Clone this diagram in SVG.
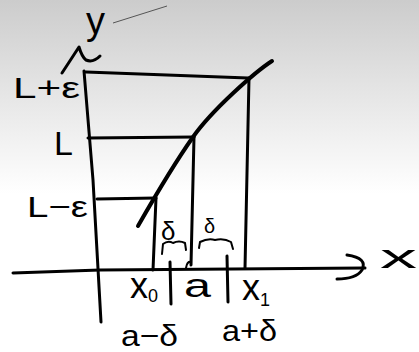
<svg xmlns="http://www.w3.org/2000/svg" width="419" height="352" viewBox="0 0 419 352">
<defs>
<linearGradient id="bg" x1="0" y1="0" x2="0" y2="1">
<stop offset="0" stop-color="#cccccc"/>
<stop offset="0.25" stop-color="#e4e4e4"/>
<stop offset="0.55" stop-color="#ffffff"/>
</linearGradient>
<style>
.ln{fill:none;stroke:#000;stroke-width:3;stroke-linecap:round;stroke-linejoin:round}
.th{fill:none;stroke:#000;stroke-width:2;stroke-linecap:round;stroke-linejoin:round}
.t{font-family:"Liberation Sans",Arial,sans-serif;fill:#000}
</style>
</defs>
<rect width="419" height="352" fill="url(#bg)"/>
<g id="axes">
<path class="ln" d="M84,71 L93,180 L101,322"/>
<path class="ln" d="M62,73 L79,47 Q82,57 86,60 Q93,63 100,56"/>
<path class="ln" d="M13,273 L100,270 L365,268"/>
<path class="ln" d="M347,255 Q368,258 362,270 Q356,279 337,279"/>
<path d="M113,23 L167,6" fill="none" stroke="#555" stroke-width="1"/>
</g>
<g id="curve">
<path d="M272,61 C255,72 212,110 193,137 S150,205 138,226" fill="none" stroke="#000" stroke-width="4" stroke-linecap="round"/>
</g>
<g id="guides">
<path class="ln" d="M86,72 L248,78"/>
<path class="ln" d="M249,78 L245,268"/>
<path class="ln" d="M88,138 L194,137"/>
<path class="ln" d="M194,137 L191,265"/>
<path class="ln" d="M97,199 L156,198"/>
<path class="ln" d="M156,198 L153,270"/>
<path class="ln" d="M170,262 L171,304"/>
<path class="ln" d="M227,256 L228,302"/>
<path class="th" d="M186,268 Q187,261 191,262"/>
<path class="th" d="M162,254 L163,244 Q168,240 173,243 Q179,240 185,243 L186,250"/>
<path class="th" d="M199,248 L200,242 Q208,238 215,240 Q224,238 231,242 L233,249"/>
</g>
<g id="labels">
<text class="t" x="13" y="98" font-size="30" textLength="67" lengthAdjust="spacingAndGlyphs">L+ε</text>
<text class="t" x="54" y="155" font-size="34">L</text>
<text class="t" x="27" y="217" font-size="30" textLength="61" lengthAdjust="spacingAndGlyphs">L−ε</text>
<text class="t" x="161" y="240" font-size="26">δ</text>
<text class="t" x="204" y="233" font-size="20">δ</text>
<text class="t" x="130" y="298" font-size="36">x<tspan font-size="18" dy="4">0</tspan></text>
<text class="t" x="184" y="297" font-size="34" textLength="27" lengthAdjust="spacingAndGlyphs">a</text>
<text class="t" x="242" y="300" font-size="36">x<tspan font-size="18" dy="6">1</tspan></text>
<text class="t" x="121" y="346" font-size="30" textLength="57" lengthAdjust="spacingAndGlyphs">a−δ</text>
<text class="t" x="222" y="341" font-size="30" textLength="55" lengthAdjust="spacingAndGlyphs">a+δ</text>
<text class="t" x="86" y="34" font-size="38">y</text>
<text class="t" x="380" y="268" font-size="34" textLength="37" lengthAdjust="spacingAndGlyphs">x</text>
</g>
</svg>
